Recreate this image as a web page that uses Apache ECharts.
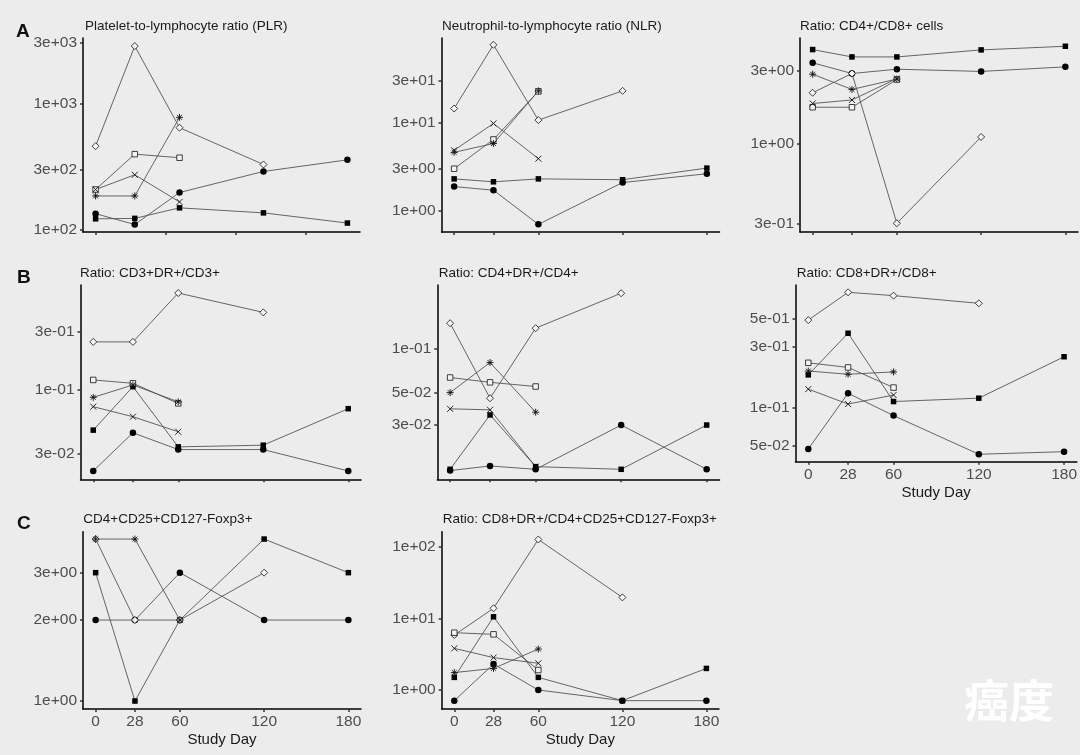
<!DOCTYPE html>
<html><head><meta charset="utf-8">
<script src="https://cdn.jsdelivr.net/npm/echarts@6/dist/echarts.min.js"></script>
<style>html,body{margin:0;padding:0;background:#ececec}#c{width:1080px;height:755px}</style>
</head><body><div id="c"></div>
<script>
// ---------- DATA ----------
const days = [0, 28, 60, 120, 180];
const dayTicksA1 = [0, 50, 100, 150];
// series order in every panel: filled square, filled circle, open diamond, open square, cross, asterisk
const plrTitle = 'Platelet-to-lymphocyte ratio (PLR)';
const plrTicks = [100, 300, 1000, 3000];
const plrValues = [
  [122, 123, 149, 136, 113],
  [134, 110, 197, 289, 357],
  [458, 2830, 641, 328, null],
  [208, 396, 371, null, null],
  [208, 272, 166, null, null],
  [185, 185, 774, null, null]
];
const nlrTitle = 'Neutrophil-to-lymphocyte ratio (NLR)';
const nlrTicks = [1, 3, 10, 30];
const nlrValues = [
  [2.3, 2.13, 2.3, 2.25, 3.05],
  [1.88, 1.71, 0.70, 2.09, 2.63],
  [14.5, 76.8, 10.7, 23.0, null],
  [3.0, 6.45, 22.7, null, null],
  [4.86, 9.8, 3.9, null, null],
  [4.61, 5.8, 23.0, null, null]
];
const cd4cd8Title = 'Ratio: CD4+/CD8+ cells';
const cd4cd8Ticks = [0.3, 1, 3];
const cd4cd8Values = [
  [4.10, 3.67, 3.67, 4.08, 4.31],
  [3.36, 2.86, 3.05, 2.95, 3.16],
  [2.14, 2.86, 0.30, 1.10, null],
  [1.72, 1.72, 2.61, null, null],
  [1.82, 1.92, 2.65, null, null],
  [2.83, 2.25, 2.63, null, null]
];
const cd3drTitle = 'Ratio: CD3+DR+/CD3+';
const cd3drTicks = [0.03, 0.1, 0.3];
const cd3drValues = [
  [0.0469, 0.1065, 0.0342, 0.0353, 0.0703],
  [0.0217, 0.0446, 0.0325, 0.0325, 0.0217],
  [0.248, 0.248, 0.624, 0.433, null],
  [0.121, 0.1135, 0.0777, null, null],
  [0.0730, 0.0604, 0.0455, null, null],
  [0.0871, 0.110, 0.080, null, null]
];
const cd4drTitle = 'Ratio: CD4+DR+/CD4+';
const cd4drTicks = [0.03, 0.05, 0.1];
const cd4drValues = [
  [0.01486, 0.0352, 0.0155, 0.01486, 0.030],
  [0.01456, 0.01567, 0.01486, 0.030, 0.01486],
  [0.151, 0.0459, 0.1396, 0.243, null],
  [0.0638, 0.0591, 0.0553, null, null],
  [0.0388, 0.0382, 0.0155, null, null],
  [0.0502, 0.0809, 0.0368, null, null]
];
const cd8drTitle = 'Ratio: CD8+DR+/CD8+';
const cd8drTicks = [0.05, 0.1, 0.3, 0.5];
const cd8drValues = [
  [0.18, 0.383, 0.111, 0.118, 0.25],
  [0.047, 0.129, 0.086, 0.0427, 0.0447],
  [0.486, 0.804, 0.757, 0.659, null],
  [0.224, 0.206, 0.143, null, null],
  [0.139, 0.106, 0.125, null, null],
  [0.193, 0.182, 0.19, null, null]
];
const tregTitle = 'CD4+CD25+CD127-Foxp3+';
const tregTicks = [1, 2, 3];
const tregValues = [
  [3, 1, 2, 4, 3],
  [2, 2, 3, 2, 2],
  [4, 2, 2, 3, null],
  [null, null, null, null, null],
  [null, null, null, null, null],
  [4, 4, 2, null, null]
];
const cd8tregTitle = 'Ratio: CD8+DR+/CD4+CD25+CD127-Foxp3+';
const cd8tregTicks = [1, 10, 100];
const cd8tregValues = [
  [1.50, 10.5, 1.50, 0.71, 2.0],
  [0.71, 2.3, 1.0, 0.71, 0.71],
  [5.85, 13.8, 126, 19.6, null],
  [6.3, 5.98, 1.90, null, null],
  [3.81, 2.83, 2.36, null, null],
  [1.75, 2.0, 3.73, null, null]
];
const xLabelText = 'Study Day';
const panelLetters = ['A', 'B', 'C'];
const watermarkText = '癌度';

// ---------- LAYOUT ----------
const FONT = '"Liberation Sans", Arial, sans-serif';
const panels = [
  {title: plrTitle, ticks: plrTicks, values: plrValues, xTicks: dayTicksA1, showX: false,
   grid: {left: 83, top: 38, width: 277, height: 194}, yr: [96, 3280], tl: [85, 19]},
  {title: nlrTitle, ticks: nlrTicks, values: nlrValues, xTicks: days, showX: false,
   grid: {left: 441.5, top: 38, width: 278, height: 194}, yr: [0.573, 91.7], tl: [442, 19]},
  {title: cd4cd8Title, ticks: cd4cd8Ticks, values: cd4cd8Values, xTicks: days, showX: false,
   grid: {left: 800, top: 38, width: 278, height: 194}, yr: [0.263, 4.88], tl: [800, 19]},
  {title: cd3drTitle, ticks: cd3drTicks, values: cd3drValues, xTicks: days, showX: false,
   grid: {left: 80.5, top: 285, width: 280.5, height: 194.3}, yr: [0.01854, 0.726], tl: [80, 266.3]},
  {title: cd4drTitle, ticks: cd4drTicks, values: cd4drValues, xTicks: days, showX: false,
   grid: {left: 437.3, top: 285, width: 282.2, height: 194.3}, yr: [0.01268, 0.277], tl: [438.7, 266.3]},
  {title: cd8drTitle, ticks: cd8drTicks, values: cd8drValues, xTicks: days, showX: true,
   grid: {left: 795.5, top: 285, width: 282.3, height: 176.7}, yr: [0.0373, 0.918], tl: [796.7, 266.3]},
  {title: tregTitle, ticks: tregTicks, values: tregValues, xTicks: days, showX: true,
   grid: {left: 83, top: 531.7, width: 278, height: 177.3}, yr: [0.934, 4.26], tl: [83.3, 512.5]},
  {title: cd8tregTitle, ticks: cd8tregTicks, values: cd8tregValues, xTicks: days, showX: true,
   grid: {left: 441.7, top: 531.7, width: 277.3, height: 177.3}, yr: [0.543, 161.8], tl: [442.7, 512.5]}
];
const letterPos = [[16, 22], [17, 268.5], [17, 514]];
const markers = [
  {symbol: 'rect', size: 5.5, fill: '#000', bw: 0},
  {symbol: 'circle', size: 6.5, fill: '#000', bw: 0},
  {symbol: 'diamond', size: 7, fill: '#f4f4f4', bw: 0.8},
  {symbol: 'rect', size: 5.5, fill: '#f4f4f4', bw: 0.8},
  {symbol: 'path://M0,0L10,10M10,0L0,10', size: 6, fill: 'none', bw: 0.9},
  {symbol: 'path://M5,0L5,10M0,5L10,5M1.5,1.5L8.5,8.5M8.5,1.5L1.5,8.5', size: 7, fill: 'none', bw: 0.9}
];

function fmtExp(v) {
  const s = v.toExponential(0);
  return s.replace(/e([+-])(\d)$/, (m, sg, d) => 'e' + sg + '0' + d);
}

const grids = [], xAxes = [], yAxes = [], series = [], titles = [];
panels.forEach((p, i) => {
  grids.push(Object.assign({containLabel: false}, p.grid));
  xAxes.push({
    type: 'value', gridIndex: i, min: -9, max: 189,
    splitLine: {show: false},
    axisLine: {show: true, onZero: false, lineStyle: {color: '#000', width: 1.5}},
    axisTick: {show: true, customValues: p.xTicks, length: 3, lineStyle: {color: '#333', width: 1.5}},
    axisLabel: {show: p.showX, customValues: days, margin: 5, color: '#4d4d4d', fontSize: 15.5, fontFamily: FONT},
    name: p.showX ? xLabelText : '', nameLocation: 'middle', nameGap: 23.5,
    nameTextStyle: {color: '#1a1a1a', fontSize: 15, fontFamily: FONT}
  });
  // log scale carrying the data
  yAxes.push({type: 'log', logBase: 10, gridIndex: i, position: 'left', min: p.yr[0], max: p.yr[1], show: false});
  // same scale expressed in log10 units, carrying ticks and labels
  const lt = p.ticks.map(Math.log10);
  yAxes.push({
    type: 'value', gridIndex: i, position: 'left',
    min: Math.log10(p.yr[0]), max: Math.log10(p.yr[1]),
    splitLine: {show: false},
    axisLine: {show: true, onZero: false, lineStyle: {color: '#000', width: 1.5}},
    axisTick: {show: true, customValues: lt, length: 3, lineStyle: {color: '#333', width: 1.5}},
    axisLabel: {customValues: lt, formatter: v => fmtExp(Math.pow(10, v)), margin: 6,
      color: '#4d4d4d', fontSize: 15.5, fontFamily: FONT}
  });
  titles.push({text: p.title, left: p.tl[0], top: p.tl[1], padding: 0,
    textStyle: {fontSize: 13.5, fontWeight: 'normal', color: '#1a1a1a', fontFamily: FONT}});
  p.values.forEach((vals, j) => {
    const data = [];
    vals.forEach((v, k) => { if (v != null) data.push([days[k], v]); });
    if (!data.length) return;
    const mk = markers[j];
    series.push({
      type: 'line', xAxisIndex: i, yAxisIndex: 2 * i, data: data,
      symbol: mk.symbol, symbolSize: mk.size, showSymbol: true,
      lineStyle: {color: '#555', width: 0.9},
      itemStyle: {color: mk.fill, borderColor: '#111', borderWidth: mk.bw},
      emphasis: {disabled: true}, silent: true, z: 2
    });
  });
});
panelLetters.forEach((L, k) => {
  titles.push({text: L, left: letterPos[k][0], top: letterPos[k][1], padding: 0,
    textStyle: {fontSize: 19, fontWeight: 'bold', color: '#111', fontFamily: FONT}});
});

const chart = echarts.init(document.getElementById('c'), null, {renderer: 'canvas'});
chart.setOption({
  backgroundColor: '#ececec',
  animation: false,
  title: titles,
  grid: grids,
  xAxis: xAxes,
  yAxis: yAxes,
  series: series,
  graphic: [{
    type: 'text', x: 1009, y: 701, silent: true,
    style: {text: watermarkText, fill: '#ffffff', font: 'bold 45px "Noto Sans CJK SC"',
      textAlign: 'center', textVerticalAlign: 'middle',
      shadowColor: 'rgba(0,0,0,0.25)', shadowBlur: 2, shadowOffsetX: 1, shadowOffsetY: 1}
  }]
});
</script></body></html>
